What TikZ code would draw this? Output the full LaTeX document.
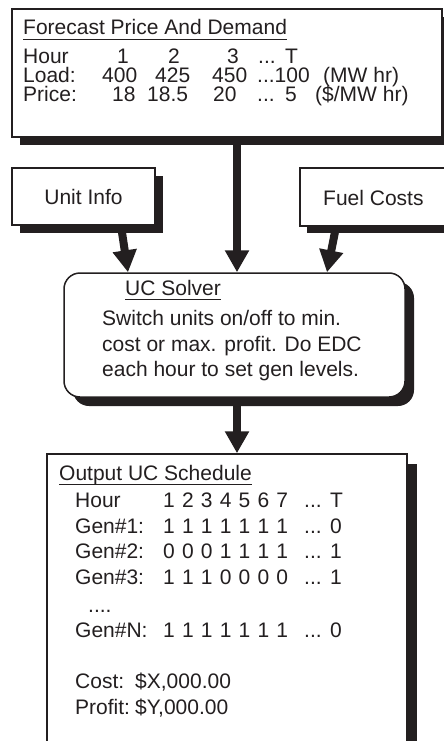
\documentclass[tikz,border=0pt]{standalone}
\usepackage{fontspec}
\setmainfont{Liberation Sans}
\usetikzlibrary{arrows.meta,shadows}
\definecolor{ink}{RGB}{35,31,32}
\newcommand\myul[1]{\setbox0=\hbox{#1}\rlap{\rule[-5pt]{\wd0}{1.3pt}}\box0}
\newcommand\drow[7]{\hbox to 125pt{#1\hfil #2\hfil #3\hfil #4\hfil #5\hfil #6\hfil #7}}
\begin{document}
\begin{tikzpicture}[x=1pt,y=-1pt,
  box/.style args={#1/#2/#3}{draw=ink, line width=1.5pt, fill=white, inner sep=0pt,
    minimum width=#1pt, minimum height=#2pt,
    drop shadow={shadow xshift=#3pt, shadow yshift=-#3pt, fill=ink, opacity=1}},
  txt/.style={anchor=base west, inner sep=0pt, text=ink, font=\fontsize{21}{25}\selectfont},
  arr/.style={draw=ink, line width=8pt, -{Triangle[width=23pt,length=22pt]}}]
\useasboundingbox (0,0) rectangle (444,741);
\fill[white] (0,0) rectangle (444,741);

% boxes
\node[box=430/128/8] (top) at (227,73) {};
\node[box=143/57/8, font=\fontsize{21}{25}\selectfont, text=ink] (unit) at (83.5,196.5) {Unit Info};
\node[box=160/58/7] (fuel) at (380,197) {};
\node[box=341/124/9, rounded corners=16pt] (solver) at (234.5,335) {};
\node[box=360/316/10] (out) at (227,612) {};

% connectors
\draw[arr] ([xshift=10pt]top.south) -- ([xshift=2.5pt]solver.north);
\draw[arr] ([xshift=37.5pt]unit.south) -- ([xshift=-106.5pt]solver.north);
\draw[arr] ([xshift=-44pt]fuel.south) -- ([xshift=92.5pt]solver.north);
\draw[arr] ([xshift=2.5pt]solver.south) -- ([xshift=10pt]out.north);

% top box text
\node[txt] (fT) at (23,35) {\myul{Forecast Price And Demand}};
\node[txt] (fH0) at (23,64) {Hour};
\node[txt] (fH1) at (117,64) {1};
\node[txt] (fH2) at (168,64) {2};
\node[txt] (fH3) at (227,64) {3};
\node[txt] (fH4) at (258,64) {...};
\node[txt] (fH5) at (285,64) {T};
\node[txt] (fL0) at (23,83) {Load:};
\node[txt] (fL1) at (102,83) {400};
\node[txt] (fL2) at (155,83) {425};
\node[txt] (fL3) at (212,83) {450};
\node[txt] (fL4) at (257,83) {...100};
\node[txt] (fL5) at (323,83) {(MW hr)};
\node[txt] (fP0) at (23,102) {Price:};
\node[txt] (fP1) at (112,102) {18};
\node[txt] (fP2) at (147,102) {18.5};
\node[txt] (fP3) at (213,102) {20};
\node[txt] (fP4) at (257,102) {...};
\node[txt] (fP5) at (285,102) {5};
\node[txt] (fP6) at (315,102) {(\$/MW hr)};

% fuel text
\node[txt] (fuelT) at (323,205) {Fuel Costs};

% solver text
\node[txt] (sT) at (125,295) {\myul{UC Solver}};
\node[txt] (s1) at (102,325) {Switch units on/off to min.};
\node[txt] (s2) at (102,351) {cost or max. profit. Do EDC};
\node[txt] (s3) at (102,376) {each hour to set gen levels.};

% output text
\node[txt] (oT) at (59,480) {\myul{Output UC Schedule}};
\node[txt] (oH) at (75,507) {Hour};
\node[txt] (oHd) at (163,507) {\drow1234567};
\node[txt] (oHe) at (304,507) {...};
\node[txt] (oHf) at (330,507) {T};
\node[txt] (o1) at (75,533) {Gen\#1:};
\node[txt] (o1d) at (163,533) {\drow1111111};
\node[txt] (o1e) at (304,533) {...};
\node[txt] (o1f) at (330,533) {0};
\node[txt] (o2) at (75,558) {Gen\#2:};
\node[txt] (o2d) at (163,558) {\drow0001111};
\node[txt] (o2e) at (304,558) {...};
\node[txt] (o2f) at (330,558) {1};
\node[txt] (o3) at (75,584) {Gen\#3:};
\node[txt] (o3d) at (163,584) {\drow1110000};
\node[txt] (o3e) at (304,584) {...};
\node[txt] (o3f) at (330,584) {1};
\node[txt] (odots) at (88,612) {....};
\node[txt] (oN) at (75,637) {Gen\#N:};
\node[txt] (oNd) at (163,637) {\drow1111111};
\node[txt] (oNe) at (304,637) {...};
\node[txt] (oNf) at (330,637) {0};
\node[txt] (oC) at (75,688) {Cost:};
\node[txt] (oCv) at (135,688) {\$X,000.00};
\node[txt] (oP) at (75,714) {Profit:};
\node[txt] (oPv) at (135,714) {\$Y,000.00};
\end{tikzpicture}
\end{document}
